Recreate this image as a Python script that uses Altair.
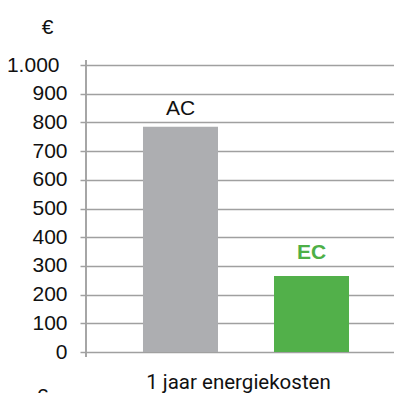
import altair as alt
import pandas as pd

categories = ["AC", "EC"]
values = [785, 265]
bar_colors = ["#ADAEB1", "#52B04A"]
y_ticks = [0, 100, 200, 300, 400, 500, 600, 700, 800, 900, 1000]
x_title = "1 jaar energiekosten"
unit = "€"

df = pd.DataFrame({"cat": categories, "val": values})

x_scale = alt.Scale(range=[0, 320], paddingInner=0.4275, paddingOuter=0.435)
y_scale = alt.Scale(domain=[0, 1000], nice=False)

x_enc = alt.X("cat:N", scale=x_scale,
              axis=alt.Axis(labels=False, ticks=False, domain=False, title=x_title,
                            titleFont="Roboto", titleFontSize=20.5, titleFontWeight="normal",
                            titleColor="#111", titleX=152, titlePadding=20))
y_enc = alt.Y("val:Q", scale=y_scale,
              axis=alt.Axis(values=y_ticks, tickCount=12, domain=False, tickSize=6, tickColor="#A0A0A0", tickWidth=1.5,
                            gridColor="#A0A0A0", gridWidth=1.5,
                            labelFont="Liberation Sans", labelFontSize=21, labelColor="#111",
                            labelPadding={"condition": {"test": "datum.value == 1000", "value": 21}, "value": 13},
                            labelOverlap=False, labelFlush=False, labelBound=False,
                            labelExpr="datum.value == 1000 ? '1.000' : datum.label",
                            title=unit, titleAngle=0, titleX=-39, titleY=-32, titleAlign="center",
                            titleBaseline="alphabetic", titleFont="Liberation Sans", titleFontSize=21,
                            titleFontWeight="normal", titleColor="#111"))

bars = alt.Chart(df).mark_bar().encode(
    x=x_enc, y=y_enc,
    color=alt.Color("cat:N", scale=alt.Scale(domain=categories, range=bar_colors), legend=None),
)

ac_text = alt.Chart(df).transform_filter("datum.cat == 'AC'").mark_text(
    dy=-12, baseline="alphabetic", font="Liberation Sans", fontSize=21, color="#111"
).encode(x=x_enc, y=y_enc, text="cat:N")

ec_text = alt.Chart(df).transform_filter("datum.cat == 'EC'").mark_text(
    dy=-17, baseline="alphabetic", font="Liberation Sans", fontSize=21, fontWeight="bold", color="#4DAF47"
).encode(x=x_enc, y=y_enc, text="cat:N")

axis_line = alt.Chart(df).mark_rule(color="#A0A0A0", strokeWidth=1.5).encode(
    x=alt.value(0), y=alt.value(-5), y2=alt.value(292)
)

bottom_unit = alt.Chart(pd.DataFrame({"t": [unit]})).mark_text(
    font="Liberation Sans", fontSize=21, color="#111", baseline="alphabetic"
).encode(x=alt.value(-44), y=alt.value(338), text="t:N")

chart = alt.layer(bars, ac_text, ec_text, axis_line, bottom_unit).properties(
    width=308, height=287,
    autosize=alt.AutoSizeParams(type="none"),
    padding={"left": 78, "top": 57, "right": 0, "bottom": 41},
).configure_view(stroke=None)

chart.save("out.html", embed_options={"renderer": "svg", "actions": False})
